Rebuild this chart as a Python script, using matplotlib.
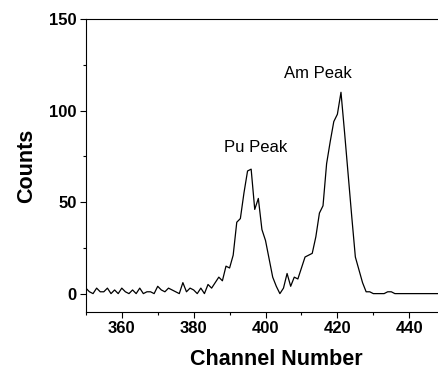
import numpy as np
import matplotlib as mpl
mpl.use("Agg")
import matplotlib.pyplot as plt
from matplotlib.ticker import MultipleLocator

mpl.rcParams['font.family'] = ['Liberation Sans', 'DejaVu Sans']

# channel 350 .. 448, one count value per channel
channels = np.arange(350, 449)
counts = [3, 1, 0, 3, 1, 1, 3, 0, 2, 0,
          3, 1, 0, 2, 0, 3, 0, 1, 1, 0,
          4, 2, 1, 3, 2, 1, 0, 6, 1, 3,
          2, 0, 3, 0, 5, 3, 6, 9, 7, 15,
          14, 21, 39, 41, 55, 67, 68, 46, 52, 35,
          29, 19, 9, 4, 0, 3, 11, 4, 9, 8,
          14, 20, 21, 22, 31, 44, 48, 71, 83, 94,
          98, 110, 88, 65, 42, 20, 13, 6, 1, 1,
          0, 0, 0, 0, 1, 1, 0, 0, 0, 0,
          0, 0, 0, 0, 0, 0, 0, 0, 0]

labels = ['Pu Peak', 'Am Peak']
label_x = [397.3, 414.5]
label_y = [80, 120.4]

fig = plt.figure(figsize=(4.38, 3.74), dpi=100)
ax = fig.add_axes([0.196, 0.166, 0.804, 0.783])

ax.plot(channels, counts, color='k', lw=0.9)
for t, x, y in zip(labels, label_x, label_y):
    ax.text(x, y, t, ha='center', va='center', fontsize=12)

ax.set_xlim(350, 448)
ax.set_ylim(-10, 150)
ax.xaxis.set_major_locator(MultipleLocator(20))
ax.xaxis.set_minor_locator(MultipleLocator(10))
ax.yaxis.set_major_locator(MultipleLocator(50))
ax.yaxis.set_minor_locator(MultipleLocator(25))
ax.tick_params(which='major', direction='out', length=4.5, width=0.8, pad=2,
               labelsize=12)
ax.tick_params(which='minor', direction='out', length=2.5, width=0.8)
for lbl in ax.get_xticklabels() + ax.get_yticklabels():
    lbl.set_fontweight('bold')
ax.spines['right'].set_visible(False)
for s in ['left', 'bottom', 'top']:
    ax.spines[s].set_linewidth(0.8)

ax.set_xlabel('Channel Number', fontsize=15.5, fontweight='bold', labelpad=8)
ax.xaxis.set_label_coords(0.54, -0.125)
ax.set_ylabel('Counts', fontsize=15.5, fontweight='bold', labelpad=9)

plt.savefig('out.png', dpi=100)
